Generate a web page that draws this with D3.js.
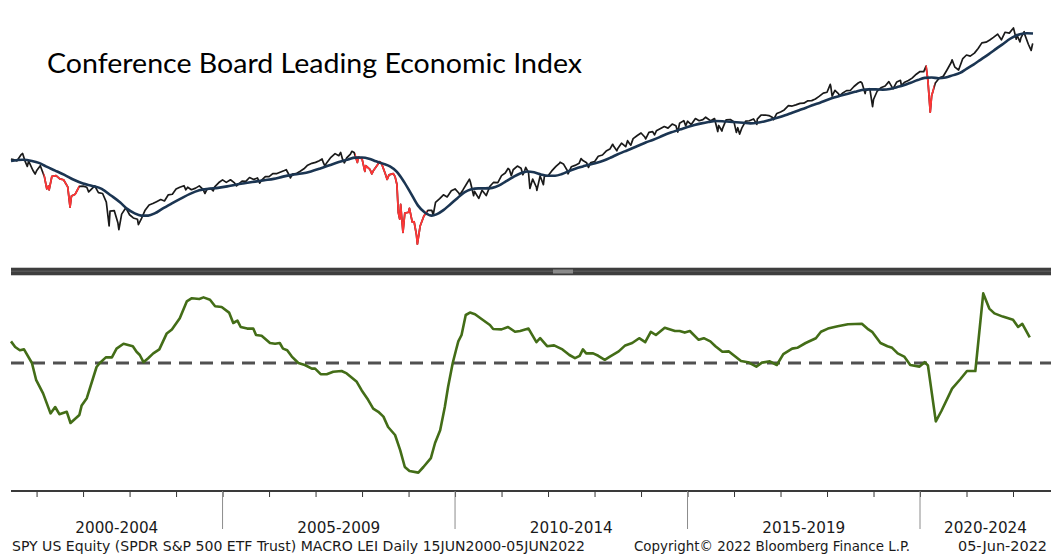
<!DOCTYPE html>
<html><head><meta charset="utf-8">
<script src="https://cdn.jsdelivr.net/npm/d3@7"></script>
<style>body{margin:0;background:#fff;}svg{display:block;}</style>
</head><body>
<svg id="chart" width="1051" height="555"></svg>
<script>
// ---------- DATA ----------
const titleText = "Conference Board Leading Economic Index";
// SPY price [decimal year, price]
const spyPrice = [
[2000.45,146],[2000.50,145.3],[2000.58,143.6],[2000.67,152.0],[2000.70,153.5],[2000.75,143.6],[2000.80,136.5],[2000.83,143.3],[2000.92,131.9],[2000.97,127.5],[2001.00,131.2],
[2001.08,137.4],[2001.17,124.0],[2001.22,111.5],[2001.25,114.3],[2001.27,110.5],[2001.33,124.9],[2001.42,125.6],[2001.50,122.0],[2001.58,121.0],[2001.67,113.5],[2001.72,94.5],[2001.75,104.4],[2001.83,106.2],[2001.92,114.1],[2002.00,114.3],
[2002.08,113.1],[2002.12,108.5],[2002.17,110.8],[2002.25,114.5],[2002.33,107.7],[2002.42,106.9],[2002.50,98.9],[2002.56,79.8],[2002.58,91.2],[2002.67,91.6],[2002.75,81.8],[2002.77,77.1],[2002.83,88.7],[2002.92,93.9],[2003.00,88.2],
[2003.08,85.7],[2003.17,84.7],[2003.19,80.6],[2003.25,84.7],[2003.33,91.6],[2003.42,96.4],[2003.50,97.6],[2003.58,99.3],[2003.67,101.2],[2003.75,99.9],[2003.83,105.5],[2003.92,106.2],[2004.00,111.3],
[2004.08,113.1],[2004.17,114.7],[2004.21,110.5],[2004.25,113.1],[2004.33,110.6],[2004.42,112.2],[2004.50,114.5],[2004.58,110.9],[2004.62,106.9],[2004.67,111.4],[2004.75,111.8],[2004.80,109.5],[2004.83,113.5],[2004.92,118.0],[2005.00,120.9],
[2005.08,118.2],[2005.17,121.0],[2005.25,118.0],[2005.30,114.5],[2005.33,115.8],[2005.42,119.5],[2005.50,119.2],[2005.58,123.5],[2005.67,121.4],[2005.75,123.0],[2005.80,117.5],[2005.83,120.0],[2005.92,124.6],[2006.00,124.5],
[2006.08,128.0],[2006.17,128.0],[2006.25,129.8],[2006.33,131.5],[2006.37,132.5],[2006.42,127.5],[2006.46,123.0],[2006.50,127.3],[2006.58,127.9],[2006.67,130.8],[2006.75,133.6],[2006.83,138.1],[2006.92,140.4],[2007.00,141.6],
[2007.08,143.8],[2007.14,146.0],[2007.17,140.9],[2007.20,137.3],[2007.25,141.9],[2007.33,148.3],[2007.42,153.3],[2007.50,150.4],[2007.54,155.0],[2007.58,145.7],[2007.62,141.0],[2007.67,147.6],[2007.75,152.6],[2007.78,156.5],[2007.83,154.7],[2007.90,141.5],[2007.92,148.7],[2008.00,146.2],
[2008.06,130.5],[2008.08,137.4],[2008.17,133.0],[2008.21,127.6],[2008.25,132.0],[2008.33,138.3],[2008.38,142.5],[2008.42,140.0],[2008.50,127.8],[2008.54,121.4],[2008.58,126.5],[2008.67,128.0],[2008.71,124.5],[2008.75,116.0],[2008.78,89.9],[2008.81,84.8],[2008.83,96.8],[2008.88,75.2],[2008.92,89.6],[2009.00,90.2],
[2009.02,93.5],[2009.08,82.5],[2009.12,82.8],[2009.17,73.5],[2009.19,67.6],[2009.25,79.7],[2009.33,87.2],[2009.42,91.8],[2009.50,91.8],[2009.53,88.0],[2009.58,98.7],[2009.67,102.0],[2009.75,105.6],[2009.83,103.6],[2009.92,109.5],[2010.00,111.4],
[2010.08,107.4],[2010.10,105.5],[2010.17,110.4],[2010.25,116.8],[2010.31,121.7],[2010.33,118.6],[2010.40,104.8],[2010.42,108.9],[2010.50,103.0],[2010.51,102.2],[2010.58,110.0],[2010.67,104.9],[2010.75,114.1],[2010.83,118.3],[2010.92,118.0],[2011.00,125.6],
[2011.08,128.6],[2011.14,134.0],[2011.17,132.6],[2011.21,125.6],[2011.25,132.5],[2011.34,137.0],[2011.42,134.4],[2011.46,126.6],[2011.50,131.9],[2011.52,135.3],[2011.58,129.2],[2011.61,111.9],[2011.67,121.8],[2011.75,113.1],[2011.76,109.9],[2011.83,125.3],[2011.90,115.8],[2011.92,124.6],[2012.00,125.5],
[2012.08,131.1],[2012.17,136.5],[2012.25,140.8],[2012.26,141.8],[2012.33,139.7],[2012.42,131.0],[2012.43,127.7],[2012.50,136.1],[2012.58,137.8],[2012.67,140.6],[2012.71,146.5],[2012.75,144.0],[2012.83,141.2],[2012.87,135.3],[2012.92,141.5],[2013.00,142.5],
[2013.08,149.7],[2013.17,151.4],[2013.25,156.8],[2013.33,159.7],[2013.39,166.8],[2013.42,163.0],[2013.48,157.3],[2013.50,160.5],[2013.58,168.5],[2013.67,163.2],[2013.71,172.4],[2013.75,168.0],[2013.78,165.5],[2013.83,175.5],[2013.92,180.5],[2014.00,184.7],
[2014.08,178.2],[2014.10,175.0],[2014.17,185.8],[2014.25,187.0],[2014.29,181.5],[2014.33,188.3],[2014.42,192.2],[2014.50,195.9],[2014.58,193.0],[2014.67,200.2],[2014.75,197.1],[2014.79,186.3],[2014.83,201.7],[2014.92,206.6],[2014.96,197.1],[2015.00,205.5],
[2015.08,199.4],[2015.17,210.4],[2015.25,206.4],[2015.33,208.5],[2015.39,213.0],[2015.42,211.1],[2015.50,206.2],[2015.58,210.5],[2015.65,187.2],[2015.67,197.7],[2015.74,188.0],[2015.75,191.6],[2015.83,207.9],[2015.92,208.7],[2016.00,203.9],
[2016.05,185.7],[2016.08,193.7],[2016.12,182.9],[2016.17,193.6],[2016.25,205.5],[2016.33,206.3],[2016.42,209.8],[2016.49,199.6],[2016.50,209.5],[2016.58,217.1],[2016.67,217.4],[2016.75,216.3],[2016.83,212.6],[2016.85,208.5],[2016.92,220.4],[2017.00,223.5],
[2017.08,227.5],[2017.17,236.5],[2017.25,235.7],[2017.33,238.1],[2017.42,241.4],[2017.50,241.8],[2017.58,246.8],[2017.67,247.5],[2017.75,251.2],[2017.83,257.2],[2017.92,265.0],[2018.00,266.9],
[2018.07,286.6],[2018.08,281.9],[2018.11,257.6],[2018.17,271.7],[2018.25,263.2],[2018.26,257.5],[2018.33,264.5],[2018.42,270.9],[2018.50,271.3],[2018.58,281.3],[2018.67,290.3],[2018.72,293.6],[2018.75,290.7],[2018.82,263.9],[2018.83,270.6],[2018.92,275.7],[2018.98,234.3],[2019.00,250.0],
[2019.08,270.0],[2019.17,278.7],[2019.25,282.5],[2019.33,294.0],[2019.42,275.3],[2019.50,293.0],[2019.58,297.4],[2019.60,283.8],[2019.67,292.5],[2019.75,297.0],[2019.83,303.3],[2019.92,314.3],[2020.00,321.9],
[2020.08,321.7],[2020.13,338.3],[2020.17,296.3],[2020.22,222.9],[2020.25,258.4],[2020.33,290.5],[2020.42,304.3],[2020.50,308.4],[2020.58,326.5],[2020.67,349.3],[2020.69,357.7],[2020.75,334.9],[2020.83,326.5],[2020.92,362.1],[2021.00,373.9],
[2021.08,370.1],[2021.17,380.4],[2021.25,396.3],[2021.33,417.3],[2021.42,420.0],[2021.50,428.1],[2021.58,438.5],[2021.67,451.6],[2021.75,429.1],[2021.83,459.3],[2021.92,455.6],[2022.00,474.96],
[2022.01,477.7],[2022.07,431.2],[2022.08,449.9],[2022.15,421.0],[2022.17,436.6],[2022.24,461.6],[2022.25,451.6],[2022.33,412.0],[2022.39,389.6],[2022.42,412.9],[2022.43,410.5]
];
// moving average of price [decimal year, value]
const spyAvg = [
[2000.45,143.5],[2000.70,145],[2000.90,143.5],[2001.05,141],[2001.20,136.5],[2001.40,131.5],[2001.60,126.5],[2001.80,121],[2002.00,117],[2002.20,114.5],[2002.40,111.5],[2002.60,105],[2002.80,98.5],[2002.95,93],[2003.10,89.5],[2003.25,87.5],[2003.40,87.5],[2003.55,89.5],[2003.70,93],[2003.90,97.5],
[2004.10,102],[2004.30,106.5],[2004.50,110],[2004.70,111.5],[2004.90,112.5],[2005.10,114],[2005.30,116],[2005.50,117.5],[2005.70,119],[2005.90,120.5],[2006.10,122],[2006.30,124.5],[2006.50,126.5],[2006.70,128],[2006.90,130.5],
[2007.10,134],[2007.30,138],[2007.50,142],[2007.70,145.5],[2007.85,147.8],[2008.00,148],[2008.15,146.5],[2008.30,143],[2008.45,140],[2008.60,136.5],[2008.75,130],[2008.90,119],[2009.05,107],[2009.20,96],[2009.35,90],[2009.50,87.5],[2009.60,88.5],[2009.75,92],[2009.90,97],
[2010.05,102.5],[2010.20,108],[2010.35,111],[2010.50,112],[2010.65,112],[2010.80,112.5],[2010.95,115],[2011.10,119.5],[2011.25,124],[2011.40,128],[2011.55,130.5],[2011.70,129.5],[2011.85,127],[2012.00,125.5],[2012.15,125.5],[2012.30,127.5],[2012.45,131],[2012.60,134],[2012.75,136.5],[2012.90,139],
[2013.05,141],[2013.20,144],[2013.35,148],[2013.50,152.5],[2013.65,156.5],[2013.80,160.5],[2013.95,165],[2014.10,169.5],[2014.25,173.5],[2014.40,178],[2014.55,183],[2014.70,187],[2014.85,191],[2015.00,195],[2015.15,198.5],[2015.30,201.5],[2015.45,204],[2015.60,206],[2015.75,205.5],[2015.90,204.5],
[2016.05,203.5],[2016.20,202.5],[2016.35,201.5],[2016.50,202.5],[2016.65,205],[2016.80,208.5],[2016.95,212.5],[2017.10,217],[2017.25,222],[2017.40,227],[2017.55,232],[2017.70,238],[2017.85,243],[2018.00,249],[2018.15,254.5],[2018.30,259],[2018.45,263.5],[2018.60,268],[2018.75,272.5],[2018.90,274],
[2019.05,274],[2019.20,273.5],[2019.35,275],[2019.50,279.5],[2019.65,284.5],[2019.80,291],[2019.95,298],[2020.10,304],[2020.25,305],[2020.40,303],[2020.55,305],[2020.70,311],[2020.86,318],[2021.00,330],[2021.15,343],[2021.30,358],[2021.48,377],[2021.65,397],[2021.80,415],[2021.93,432],[2022.05,444],[2022.15,451],[2022.30,455],[2022.43,454]
];
// periods where the price line is drawn in red [start, end]
const redPeriods = [[2001.15,2001.92],[2007.85,2009.40],[2020.12,2020.31]];
// LEI year-over-year % change [decimal year, value]
const leiYoY = [
[2000.45,2.7],[2000.54,2.0],[2000.64,1.6],[2000.73,1.7],[2000.90,0.0],[2000.99,-2.1],[2001.14,-3.8],[2001.30,-6.3],[2001.40,-5.5],[2001.49,-6.4],[2001.65,-6.1],[2001.73,-7.5],[2001.92,-6.5],[2001.97,-5.3],[2002.08,-4.4],[2002.29,-0.5],[2002.36,0.0],[2002.49,0.7],[2002.62,0.7],[2002.72,1.8],[2002.87,2.4],
[2003.07,2.1],[2003.15,1.4],[2003.22,1.0],[2003.30,0.1],[2003.40,0.6],[2003.51,1.2],[2003.64,1.7],[2003.80,3.7],[2003.91,4.2],[2004.08,5.6],[2004.23,7.7],[2004.34,8.1],[2004.50,8.0],[2004.59,8.2],[2004.73,7.9],[2004.84,7.1],[2004.98,7.0],
[2005.14,6.3],[2005.23,5.0],[2005.32,5.3],[2005.39,4.5],[2005.53,4.3],[2005.66,4.3],[2005.72,3.5],[2005.84,3.4],[2006.02,2.5],[2006.13,2.4],[2006.23,2.5],[2006.30,1.8],[2006.39,1.6],[2006.49,0.8],[2006.63,0.0],[2006.77,-0.25],[2006.92,-0.7],[2006.99,-0.7],
[2007.11,-1.4],[2007.24,-1.4],[2007.38,-1.1],[2007.56,-1.0],[2007.67,-1.3],[2007.88,-2.3],[2007.99,-3.4],[2008.13,-4.6],[2008.24,-5.7],[2008.35,-6.1],[2008.46,-6.7],[2008.56,-8.0],[2008.71,-9.0],[2008.82,-10.9],[2008.92,-13.0],[2009.02,-13.5],[2009.21,-13.7],[2009.32,-13.0],[2009.48,-11.9],[2009.57,-10.0],[2009.68,-8.4],[2009.78,-5.5],[2009.85,-3.0],[2009.95,0.0],
[2010.02,1.6],[2010.07,2.7],[2010.14,3.5],[2010.23,6.0],[2010.32,6.3],[2010.43,6.1],[2010.57,5.5],[2010.75,4.75],[2010.82,4.25],[2011.00,4.2],[2011.14,4.5],[2011.29,3.9],[2011.40,4.0],[2011.58,4.3],[2011.75,2.6],[2011.83,3.1],[2011.98,2.1],
[2012.13,2.2],[2012.31,1.7],[2012.46,1.0],[2012.58,0.6],[2012.68,0.9],[2012.75,1.7],[2012.82,1.2],[2012.97,1.2],[2013.08,0.9],[2013.22,0.4],[2013.33,0.8],[2013.52,1.45],[2013.66,2.2],[2013.81,2.5],[2013.96,3.1],
[2014.09,2.6],[2014.21,3.9],[2014.32,3.5],[2014.51,4.4],[2014.73,4.0],[2014.83,4.0],[2014.94,3.8],[2015.05,4.0],[2015.24,2.9],[2015.35,3.1],[2015.49,2.7],[2015.60,2.1],[2015.75,1.4],[2015.89,1.45],
[2016.15,0.25],[2016.30,0.1],[2016.48,-0.45],[2016.60,0.05],[2016.77,0.2],[2016.92,-0.25],[2017.06,1.1],[2017.25,1.8],[2017.36,1.9],[2017.54,2.5],[2017.76,3.1],[2017.87,3.9],[2018.02,4.3],[2018.23,4.6],[2018.45,4.85],[2018.75,4.9],[2018.89,4.2],[2018.97,3.9],
[2019.15,2.5],[2019.30,2.1],[2019.40,1.9],[2019.52,1.2],[2019.66,0.8],[2019.79,-0.25],[2019.99,-0.45],[2020.10,0.1],[2020.17,-0.3],[2020.34,-7.3],[2020.46,-6.0],[2020.69,-3.2],[2020.87,-2.0],[2021.01,-1.0],[2021.19,-1.0],
[2021.36,8.7],[2021.49,6.8],[2021.60,6.2],[2021.78,5.8],[2022.00,5.4],[2022.11,4.5],[2022.20,4.9],[2022.36,3.2]
];
const periodLabels = ["2000-2004","2005-2009","2010-2014","2015-2019","2020-2024"];
const periodStarts = [2000,2005,2010,2015,2020];
const yearTicks = d3.range(2001, 2023);
const footerLeft = "SPY US Equity (SPDR S&P 500 ETF Trust) MACRO LEI  Daily 15JUN2000-05JUN2022";
const footerMid = "Copyright\u00A9 2022 Bloomberg Finance L.P.";
const footerRight = "05-Jun-2022";

// ---------- LAYOUT ----------
const left = 11, right = 1051;
const svg = d3.select("#chart");

const x = d3.scaleLinear().domain([2000.45, 2022.43]).range([11, 1033]);
const yP = d3.scaleLog().domain([67.1, 479]).range([245, 27.6]);
const yL = d3.scaleLinear().domain([-16, 12]).range([491, 267]);

// title
svg.append("text").attr("x", 47).attr("y", 73)
  .attr("font-family", "Lato, 'Open Sans', sans-serif").attr("font-size", 27)
  .attr("fill", "#000").attr("textLength", 535).attr("lengthAdjust", "spacingAndGlyphs")
  .text(titleText);

// price lines
const priceLine = d3.line().x(d => x(d[0])).y(d => yP(d[1]));
svg.append("path").datum(spyPrice).attr("d", priceLine)
  .attr("fill", "none").attr("stroke", "#1a1a1a").attr("stroke-width", 1.7).attr("stroke-linejoin", "round");

const defs = svg.append("defs");
redPeriods.forEach((p, i) => {
  defs.append("clipPath").attr("id", "red" + i).append("rect")
    .attr("x", x(p[0])).attr("width", x(p[1]) - x(p[0])).attr("y", 0).attr("height", 265);
  svg.append("path").datum(spyPrice).attr("d", priceLine).attr("clip-path", `url(#red${i})`)
    .attr("fill", "none").attr("stroke", "#ff3535").attr("stroke-width", 1.8).attr("stroke-linejoin", "round");
});

svg.append("path").datum(spyAvg)
  .attr("d", d3.line().curve(d3.curveMonotoneX).x(d => x(d[0])).y(d => yP(d[1])))
  .attr("fill", "none").attr("stroke", "#1b3552").attr("stroke-width", 2.6);

// divider
svg.append("rect").attr("x", left).attr("y", 267).attr("width", right - left).attr("height", 9).attr("fill", "#c8c8c8");
svg.append("rect").attr("x", left).attr("y", 268).attr("width", right - left).attr("height", 7).attr("fill", "#3e3e3e");
svg.append("rect").attr("x", left).attr("y", 270.5).attr("width", right - left).attr("height", 1.5).attr("fill", "#555");
svg.append("rect").attr("x", 553).attr("y", 269.5).attr("width", 20).attr("height", 4).attr("fill", "#8a8a8a");

// zero line
svg.append("line").attr("x1", left).attr("x2", right).attr("y1", yL(0)).attr("y2", yL(0))
  .attr("stroke", "#505050").attr("stroke-width", 3).attr("stroke-dasharray", "13,8");

// LEI line
svg.append("path").datum(leiYoY)
  .attr("d", d3.line().x(d => x(d[0])).y(d => yL(d[1])))
  .attr("fill", "none").attr("stroke", "#436d17").attr("stroke-width", 2.6).attr("stroke-linejoin", "round");

// x axis
const axisY = 491;
const ax = svg.append("g").attr("transform", `translate(0,${axisY})`)
  .call(d3.axisBottom(x).tickValues(yearTicks).tickSize(6).tickFormat(""));
ax.select(".domain").remove();
ax.selectAll(".tick line").attr("stroke", "#333").attr("stroke-width", 1);
svg.append("line").attr("x1", left).attr("x2", right).attr("y1", axisY).attr("y2", axisY)
  .attr("stroke", "#3a3a3a").attr("stroke-width", 2);

// period separators and labels
periodStarts.forEach((s, i) => {
  if (i > 0) {
    svg.append("line").attr("x1", x(s)).attr("x2", x(s)).attr("y1", axisY).attr("y2", 529)
      .attr("stroke", "#8c8c8c").attr("stroke-width", 1);
  }
  const a = Math.max(x(s), left), b = Math.min(x(s + 5), right);
  svg.append("text").attr("x", (a + b) / 2).attr("y", 533)
    .attr("text-anchor", "middle").attr("font-family", "'DejaVu Sans Condensed', 'DejaVu Sans', sans-serif")
    .attr("font-size", 16.5).attr("fill", "#1a1a1a")
    .attr("textLength", 83).attr("lengthAdjust", "spacingAndGlyphs")
    .text(periodLabels[i]);
});

// footer
const ff = "'DejaVu Sans Condensed', 'DejaVu Sans', sans-serif";
[[footerLeft, 12, 573], [footerMid, 634, 276], [footerRight, 958, 89]].forEach(f => {
  svg.append("text").attr("x", f[1]).attr("y", 551)
    .attr("font-family", ff).attr("font-size", 14).attr("fill", "#1a1a1a")
    .attr("textLength", f[2]).attr("lengthAdjust", "spacingAndGlyphs").text(f[0]);
});
</script>
</body></html>
